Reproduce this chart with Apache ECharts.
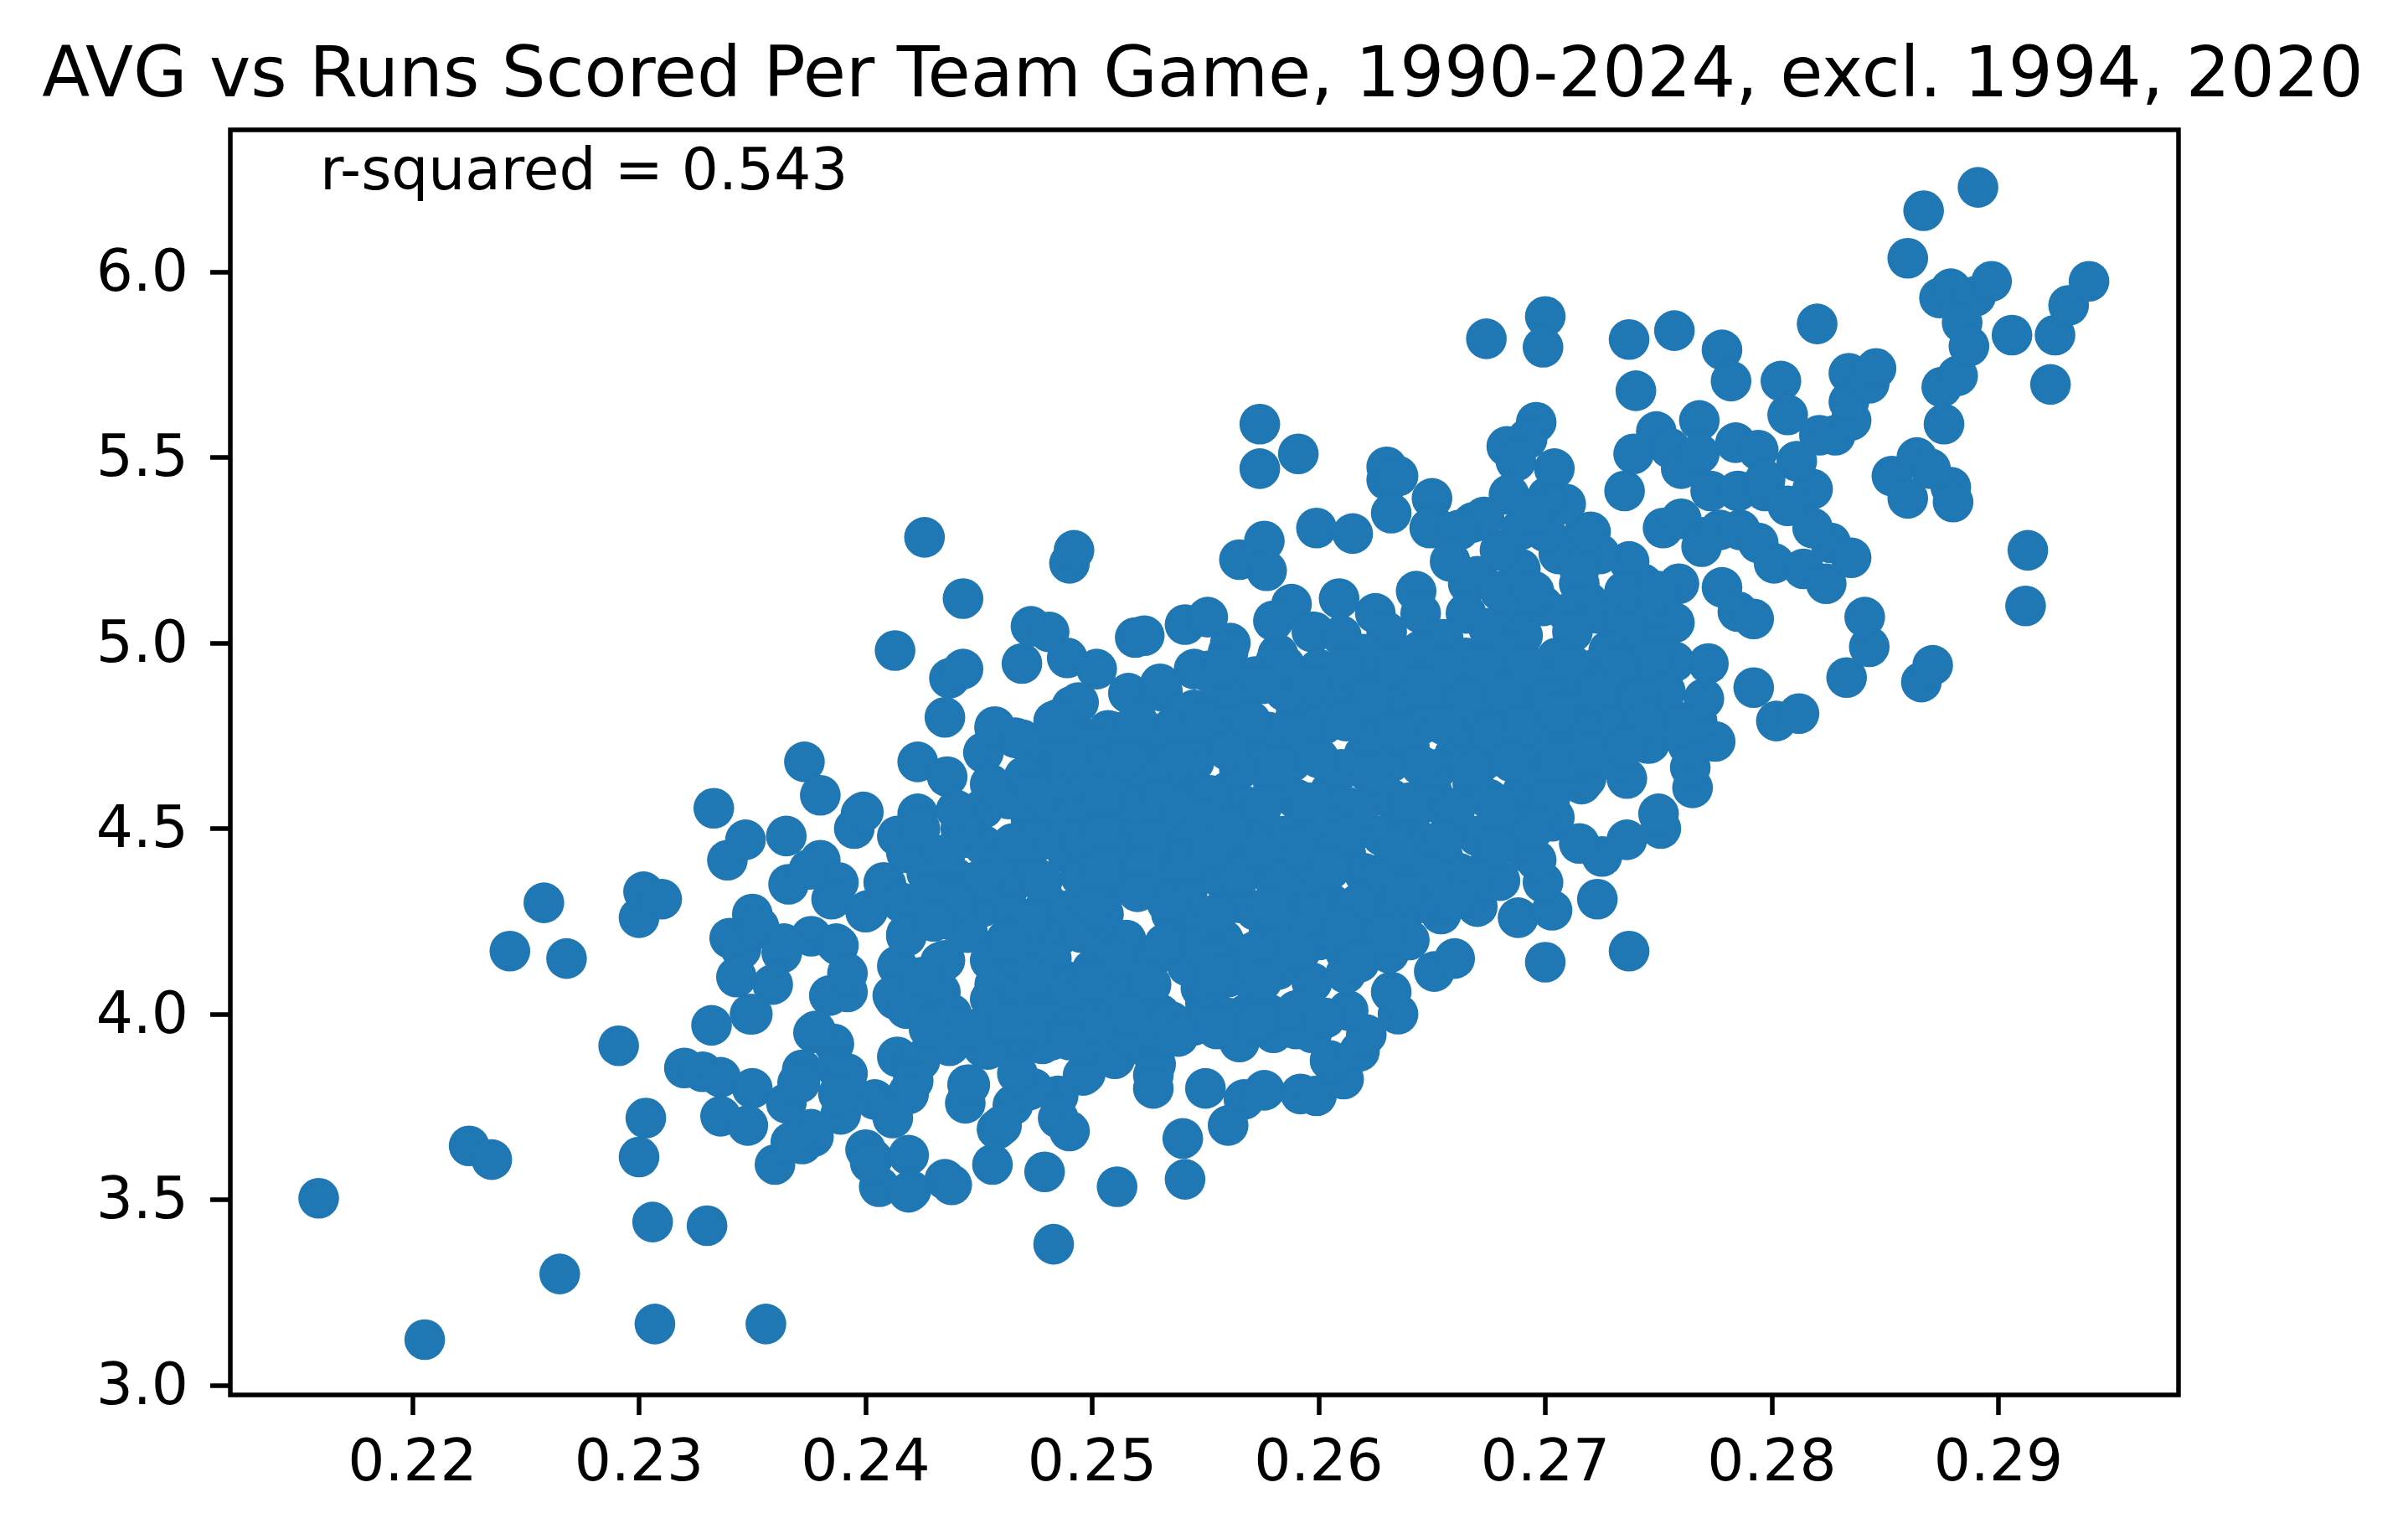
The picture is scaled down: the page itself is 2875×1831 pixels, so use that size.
<!DOCTYPE html>
<html><head><meta charset="utf-8">
<style>html,body{margin:0;padding:0;background:#fff}#c{width:2875px;height:1831px}</style>
<script src="https://cdn.jsdelivr.net/npm/echarts@6/dist/echarts.min.js"></script>
</head><body><div id="c"></div>
<script>
const chartTitle = 'AVG vs Runs Scored Per Team Game, 1990-2024, excl. 1994, 2020';
const note = 'r-squared = 0.543';
const xTicks = [0.22,0.23,0.24,0.25,0.26,0.27,0.28,0.29];
const yTicks = [3.0,3.5,4.0,4.5,5.0,5.5,6.0];

const lowEnd = [[.21586,3.504],[.22054,3.123],[.2225,3.645],[.2235,3.608],[.2265,3.30],[.2243,4.17],[.2258,4.30],[.2268,4.15],[.2291,3.915],[.2300,4.26],[.2302,4.33],[.2310,4.31],[.2300,3.615],[.2303,3.72],[.2306,3.44],[.2307,3.165],[.2330,3.43],[.2356,3.165],[.2333,4.555],[.2339,4.415],[.2347,4.47],[.2332,3.97],[.2320,3.855],[.2328,3.845],[.2336,3.83],[.2350,3.80],[.2336,3.725],[.2348,3.70],[.2360,3.595],[.2340,4.205],[.2350,4.27],[.2345,4.175],[.2343,4.10],[.2349,4.00],[.2359,4.08],[.2363,4.165],[.2352,4.23],[.2365,4.48],[.2366,4.35],[.2373,4.68],[.2380,4.59],[.2380,4.415],[.2376,4.21],[.2388,4.355],[.2395,4.50],[.2398,4.54],[.2401,4.28],[.2387,4.19],[.2385,4.31],[.2392,4.06],[.2384,4.05],[.2377,3.95],[.2386,3.92],[.2372,3.85],[.2370,3.815],[.2365,3.76],[.2387,3.855],[.2390,3.82],[.2389,3.73],[.2377,3.67],[.2372,3.65],[.2400,3.635],[.2403,3.61],[.2406,3.535],[.2404,3.77],[.2410,3.75],[.2419,3.62],[.2420,3.525],[.2435,3.555],[.2438,3.54],[.2456,3.595],[.2479,3.575],[.2483,3.38],[.2511,3.535],[.2540,3.665],[.2541,3.555]];

const leftMiddle = [[.2413,4.98],[.2426,5.285],[.2443,5.12],[.2437,4.905],[.2443,4.93],[.2435,4.80],[.2423,4.68],[.2436,4.64],[.2423,4.54],[.2414,4.48],[.2408,4.355],[.2418,4.435],[.2418,4.215],[.2414,4.13],[.2413,4.04],[.2424,4.01],[.2414,3.885],[.2422,3.87],[.2419,3.79],[.2445,3.81],[.2444,3.76],[.2452,4.705],[.2457,4.775],[.2466,4.745],[.2478,4.705],[.2487,4.68],[.2492,4.765],[.2507,4.765],[.2523,4.75],[.2452,4.555],[.2463,4.58],[.2443,4.475],[.2452,4.455],[.2473,4.525],[.2484,4.54],[.2473,4.38],[.2465,4.355],[.2438,4.355],[.2428,4.375],[.2445,4.25],[.2452,4.29],[.2465,4.27],[.2435,4.145],[.2458,4.175],[.2462,4.085],[.2455,4.04],[.2433,4.06],[.2438,4.0],[.2471,4.145],[.2485,4.21],[.2496,4.29],[.2506,4.455],[.2489,4.435],[.2458,3.92],[.2468,3.92],[.2452,3.91],[.2477,4.02],[.2485,3.98],[.2496,3.835],[.2485,3.78],[.2472,3.795],[.2465,3.755],[.2458,3.69],[.2485,3.72],[.2490,3.685]];

const leftCluster = [[.2399,4.545],[.2424,4.50],[.2442,4.50],[.2375,4.39],[.2409,4.35],[.2416,4.30],[.2400,4.275],[.2427,4.38],[.2439,4.37],[.2428,4.32],[.2353,4.235],[.2364,4.19],[.2388,4.185],[.2350,4.0],[.2392,4.11],[.2418,4.21],[.2412,4.05],[.2418,4.015],[.2433,4.14],[.2439,4.25],[.2445,4.22],[.2430,4.08],[.2455,4.145],[.2457,4.08],[.2458,4.02],[.2378,3.955],[.2392,3.84],[.2424,3.875],[.2421,3.82],[.2437,3.915],[.2454,3.905],[.2446,3.81],[.2371,3.815],[.2388,3.785],[.2419,3.785],[.2412,3.72],[.2376,3.69],[.2367,3.655],[.2402,3.60],[.2419,3.52],[.2474,3.80],[.2497,3.84],[.2460,3.70],
[.2457,4.77],[.2469,4.74],[.2491,4.83],[.2483,4.79],[.2510,4.76],[.2541,4.78],[.2562,4.80],[.2599,4.84],[.2582,4.97],[.2598,5.03],[.2561,5.0],[.2552,4.92],
[.2470,4.46],[.2480,4.30],[.2495,4.37],[.2476,4.19],[.2468,4.05],[.2488,4.09],[.2478,3.92],[.2467,3.84],[.2497,3.93],[.2510,3.88],[.2500,4.50],[.2485,4.62],[.2470,4.64],[.2458,4.40],[.2500,4.60],
[.2478,4.47],[.2465,4.46],[.2490,4.52],[.2478,4.36],[.2472,4.25],[.2490,4.28],[.2482,4.15],[.2474,4.10],[.2492,4.0],[.2482,3.93],[.2472,3.98],[.2462,3.98],[.2462,4.20],[.2450,4.36],[.2440,4.30],[.2430,4.25],[.2425,4.10],[.2428,3.96],[.2445,3.96],[.2475,4.60],[.2455,4.62],[.2440,4.55],[.2435,4.43]];

const upperMiddle = [[.2490,5.215],[.2492,5.25],[.2473,5.045],[.2481,5.03],[.2469,4.945],[.2489,4.96],[.2502,4.93],[.2494,4.84],[.2516,4.865],[.2531,4.87],[.2519,5.015],[.2523,5.02],[.2541,5.05],[.2551,5.07],[.2551,4.925],[.2560,4.975],[.2565,5.225],[.2576,5.275],[.2577,5.195],[.2574,5.59],[.2574,5.47],[.2591,5.51],[.2599,5.31],[.2615,5.295],[.2630,5.44],[.2630,5.475],[.2635,5.45],[.2632,5.35],[.2650,5.39],[.2652,5.31],[.2643,5.14],[.2609,5.12],[.2588,5.105],[.2580,5.06],[.2597,5.03],[.2581,4.95],[.2485,4.795],[.2666,5.16],[.2649,5.31],[.2671,5.33],[.2704,5.38],[.2720,5.30]];

const lowerMiddle = [[.2519,3.92],[.2528,3.865],[.2527,3.835],[.2527,3.80],[.2550,3.80],[.2567,3.77],[.2560,3.70],[.2576,3.795],[.2565,3.925],[.2580,3.95],[.2592,3.785],[.2599,3.78],[.2611,3.825],[.2605,3.875],[.2618,3.90],[.2621,3.945],[.2613,4.01],[.2597,4.085],[.2597,3.95],[.2590,3.96],[.2635,4.00],[.2632,4.06],[.2612,4.165],[.2608,4.195],[.2651,4.115],[.2660,4.15],[.2654,4.27],[.2643,4.32],[.2631,4.165],[.2670,4.29],[.2688,4.26],[.2700,4.14],[.2703,4.28],[.2699,4.355],[.2696,4.415],[.2737,4.17],[.2723,4.31],[.2725,4.425],[.2715,4.46],[.2736,4.47],[.2751,4.50],[.2750,4.54],[.2703,4.52],[.2692,4.435],[.2716,4.62],[.2736,4.635],[.2718,4.635],[.2704,4.53],[.2746,4.73],[.2751,4.88]];

const upperRight = [[.2765,4.61],[.2764,4.665],[.2775,4.735],[.2763,4.725],[.2767,4.79],[.2770,4.85],[.2772,4.945],[.2753,4.87],[.2757,4.95],[.2749,5.035],[.2757,5.055],[.2743,5.16],[.2759,5.16],[.2737,5.22],[.2724,5.24],[.2717,5.295],[.2735,5.41],[.2709,5.375],[.2701,5.395],[.2704,5.47],[.2696,5.595],[.2692,5.55],[.2683,5.53],[.2687,5.49],[.2684,5.40],[.2668,5.325],[.2673,5.34],[.2662,5.305],[.2670,5.18],[.2658,5.22],[.2689,5.305],[.2689,5.20],[.2706,5.24],[.2699,5.10],[.2719,5.11],[.2723,5.08],[.2733,5.0],[.2674,5.82],[.2700,5.88],[.2699,5.797],[.2737,5.818],[.2757,5.842],[.2740,5.68],[.2778,5.79],[.2782,5.706],[.2820,5.86],[.2804,5.706],[.2807,5.615],[.2768,5.60],[.2749,5.57],[.2739,5.51],[.2755,5.525],[.2760,5.47],[.2768,5.51],[.2784,5.54],[.2794,5.52],[.2752,5.31],[.2760,5.335],[.2773,5.41],[.2785,5.41],[.2797,5.41],[.2770,5.285],[.2769,5.26],[.2777,5.305],[.2786,5.305],[.2794,5.27],[.2801,5.215],[.2814,5.20],[.2824,5.16],[.2826,5.27],[.2835,5.23],[.2818,5.31],[.2818,5.415],[.2811,5.49],[.2797,5.44],[.2807,5.37],[.2821,5.56],[.2828,5.56],[.2835,5.60],[.2834,5.727],[.2834,5.65],[.2843,5.70],[.2846,5.74],[.2778,5.15],[.2785,5.085],[.2792,5.065],[.2792,4.88],[.2802,4.79],[.2812,4.81],[.2833,4.907],[.2843,4.99],[.2841,5.07],
[.2625,5.08],[.2645,5.08],[.2665,5.08],[.2685,5.08],[.2710,5.08],[.2735,5.08],[.2750,5.10],
[.2680,5.14],[.2695,5.14],[.2715,5.16],[.2735,5.14],[.2750,5.14],
[.2680,5.25],[.2700,5.30],[.2715,5.20],[.2695,5.35]];

const highEnd = [[.2853,5.45],[.2860,5.39],[.2864,5.50],[.2870,5.47],[.2879,5.42],[.2880,5.38],[.2876,5.59],[.2875,5.69],[.2882,5.72],[.2860,6.037],[.2867,6.165],[.2891,6.228],[.2874,5.93],[.2879,5.955],[.2890,5.935],[.2897,5.975],[.2884,5.863],[.2887,5.80],[.2906,5.83],[.2925,5.83],[.2923,5.697],[.2931,5.91],[.2940,5.975],[.2913,5.25],[.2912,5.10],[.2866,4.895],[.2871,4.94]];

const denseCore = [[.2610,5.02],[.2630,5.03],[.2655,5.01],[.2675,5.04],[.2690,5.02],[.2712,5.03],[.2735,5.03],
[.2545,4.93],[.2572,4.91],[.2600,4.93],[.2622,4.90],[.2645,4.93],[.2662,4.90],[.2682,4.93],[.2702,4.90],[.2722,4.93],[.2742,4.90],
[.2545,4.82],[.2565,4.84],[.2590,4.81],[.2612,4.84],[.2632,4.81],[.2655,4.83],[.2672,4.80],[.2695,4.83],[.2715,4.80],[.2735,4.83],[.2755,4.80],
[.2500,4.72],[.2528,4.70],[.2550,4.73],[.2575,4.71],[.2595,4.73],[.2620,4.70],[.2640,4.72],[.2660,4.70],[.2685,4.73],[.2700,4.70],[.2725,4.72],[.2745,4.73],
[.2490,4.62],[.2515,4.60],[.2535,4.63],[.2560,4.60],[.2580,4.62],[.2605,4.60],[.2625,4.63],[.2650,4.60],[.2668,4.62],[.2690,4.60],[.2708,4.63],
[.2510,4.52],[.2530,4.50],[.2555,4.53],[.2572,4.50],[.2598,4.52],[.2618,4.50],[.2640,4.52],[.2660,4.50],[.2682,4.53],
[.2510,4.40],[.2528,4.41],[.2548,4.39],[.2570,4.42],[.2590,4.40],[.2612,4.43],[.2632,4.40],[.2655,4.42],[.2675,4.40],
[.2505,4.32],[.2532,4.34],[.2542,4.33],[.2565,4.30],[.2585,4.32],[.2605,4.30],[.2628,4.33],[.2645,4.30],[.2668,4.33],
[.2495,4.22],[.2515,4.20],[.2538,4.23],[.2558,4.20],[.2578,4.22],[.2600,4.20],[.2622,4.23],[.2640,4.20],
[.2500,4.12],[.2520,4.10],[.2542,4.13],[.2560,4.10],[.2582,4.12],[.2592,4.17],
[.2505,4.02],[.2530,4.00],[.2550,4.03],[.2568,4.00],
[.2490,3.93],[.2515,3.95],[.2535,3.98]];

const denseInfill = [[.2620,4.97],[.2645,4.98],[.2665,4.96],[.2685,4.98],[.2705,4.96],[.2728,4.98],[.2748,4.96],
[.2558,4.87],[.2585,4.87],[.2610,4.88],[.2634,4.86],[.2655,4.88],[.2672,4.86],[.2692,4.88],[.2712,4.86],[.2732,4.88],[.2752,4.86],
[.2535,4.77],[.2555,4.78],[.2578,4.76],[.2602,4.78],[.2622,4.76],[.2645,4.78],[.2665,4.76],[.2682,4.78],[.2705,4.76],[.2725,4.78],[.2740,4.76],[.2760,4.78],
[.2505,4.67],[.2525,4.66],[.2545,4.68],[.2565,4.66],[.2588,4.68],[.2610,4.66],[.2632,4.68],[.2652,4.66],[.2672,4.68],[.2695,4.66],[.2712,4.68],[.2732,4.68],
[.2522,4.56],[.2545,4.58],[.2568,4.56],[.2590,4.58],[.2612,4.56],[.2632,4.58],[.2655,4.56],[.2675,4.58],[.2698,4.56],
[.2495,4.47],[.2512,4.47],[.2538,4.49],[.2562,4.46],[.2585,4.48],[.2605,4.46],[.2628,4.48],[.2650,4.46],[.2670,4.48],[.2688,4.46],
[.2497,4.37],[.2518,4.36],[.2535,4.38],[.2558,4.36],[.2578,4.38],[.2600,4.36],[.2620,4.38],[.2642,4.36],[.2662,4.38],[.2680,4.36],
[.2505,4.27],[.2535,4.27],[.2550,4.26],[.2572,4.28],[.2592,4.26],[.2615,4.28],[.2635,4.26],[.2655,4.31],
[.2505,4.17],[.2528,4.16],[.2548,4.18],[.2568,4.16],[.2590,4.18],[.2612,4.11],
[.2490,4.07],[.2512,4.06],[.2548,4.07],[.2552,4.06],[.2572,4.08],
[.2505,3.97],[.2525,3.96],[.2545,3.97],[.2560,3.99],[.2578,4.00]];

const denseThird = [[.2558,4.94],[.2585,4.94],[.2612,4.94],[.2634,4.94],[.2655,4.94],[.2672,4.94],[.2692,4.94],[.2712,4.94],[.2732,4.94],
[.2530,4.89],[.2575,4.89],[.2597,4.89],[.2622,4.84],[.2645,4.88],[.2665,4.85],[.2682,4.87],[.2702,4.85],[.2722,4.87],[.2742,4.85],
[.2520,4.79],[.2550,4.79],[.2570,4.79],[.2592,4.76],[.2612,4.79],[.2635,4.76],[.2655,4.78],[.2675,4.75],[.2690,4.78],[.2705,4.81],[.2720,4.75],[.2745,4.79],
[.2490,4.69],[.2515,4.69],[.2538,4.69],[.2560,4.71],[.2582,4.67],[.2600,4.69],[.2622,4.65],[.2645,4.67],[.2668,4.66],[.2685,4.68],[.2705,4.69],[.2720,4.70],[.2735,4.72],
[.2505,4.59],[.2530,4.58],[.2552,4.59],[.2575,4.56],[.2595,4.57],[.2618,4.55],[.2640,4.57],[.2660,4.55],[.2680,4.56],[.2702,4.58],
[.2505,4.49],[.2525,4.47],[.2568,4.47],[.2590,4.45],[.2612,4.48],[.2635,4.45],[.2655,4.47],[.2678,4.45],[.2695,4.50],
[.2505,4.39],[.2522,4.39],[.2542,4.41],[.2565,4.37],[.2583,4.35],[.2605,4.39],[.2625,4.36],[.2648,4.38],[.2668,4.36],
[.2500,4.29],[.2533,4.30],[.2555,4.27],[.2578,4.29],[.2598,4.27],[.2618,4.30],[.2638,4.33],[.2660,4.31],
[.2510,4.15],[.2532,4.19],[.2552,4.14],[.2572,4.17],[.2610,4.24],[.2630,4.21],
[.2500,4.09],[.2526,4.08],[.2555,4.11],[.2575,4.09],[.2618,4.14],
[.2515,4.00],[.2538,3.94],[.2555,3.96],[.2572,3.98],[.2590,4.01],[.2603,3.99],
[.2540,4.55],[.2548,4.52],[.2560,4.50],[.2520,4.33],[.2552,4.44],[.2575,4.44]];

const points = lowEnd.concat(leftMiddle, leftCluster, upperMiddle, lowerMiddle, upperRight, highEnd, denseCore, denseInfill, denseThird);

const fontFamily = '"DejaVu Sans"';
const chart = echarts.init(document.getElementById('c'));
chart.setOption({
  animation:false,
  backgroundColor:'#ffffff',
  title:[
    {text:chartTitle,left:1431,top:47,textAlign:'center',textStyle:{fontFamily,fontSize:83.3,fontWeight:'normal',color:'#000'}},
    {text:note,left:377,top:168,textStyle:{fontFamily,fontSize:69.4,fontWeight:'normal',color:'#000'}}
  ],
  grid:{left:275,top:155,width:2326,height:1510,show:true,borderColor:'#000',borderWidth:5.5,backgroundColor:'#fff'},
  xAxis:{type:'value',min:0.21196,max:0.29795,splitLine:{show:false},axisLine:{show:false},
    axisTick:{show:true,length:24,lineStyle:{color:'#000',width:5.5},customValues:xTicks},
    axisLabel:{show:true,margin:49,fontFamily,fontSize:69.4,color:'#000',customValues:xTicks,formatter:v=>v.toFixed(2)}},
  yAxis:{type:'value',min:2.974,max:6.383,splitLine:{show:false},axisLine:{show:false},
    axisTick:{show:true,length:24,lineStyle:{color:'#000',width:5.5},customValues:yTicks},
    axisLabel:{show:true,margin:50,fontFamily,fontSize:69.4,color:'#000',customValues:yTicks,
      formatter:v=>'{v|'+v.toFixed(1)+'}',
      rich:{v:{fontFamily,fontSize:69.4,color:'#000',padding:[8,0,0,0]}}}},
  series:[{type:'scatter',data:points,symbol:'circle',symbolSize:48.6,itemStyle:{color:'#1f77b4',opacity:1},clip:true}]
});
</script></body></html>
